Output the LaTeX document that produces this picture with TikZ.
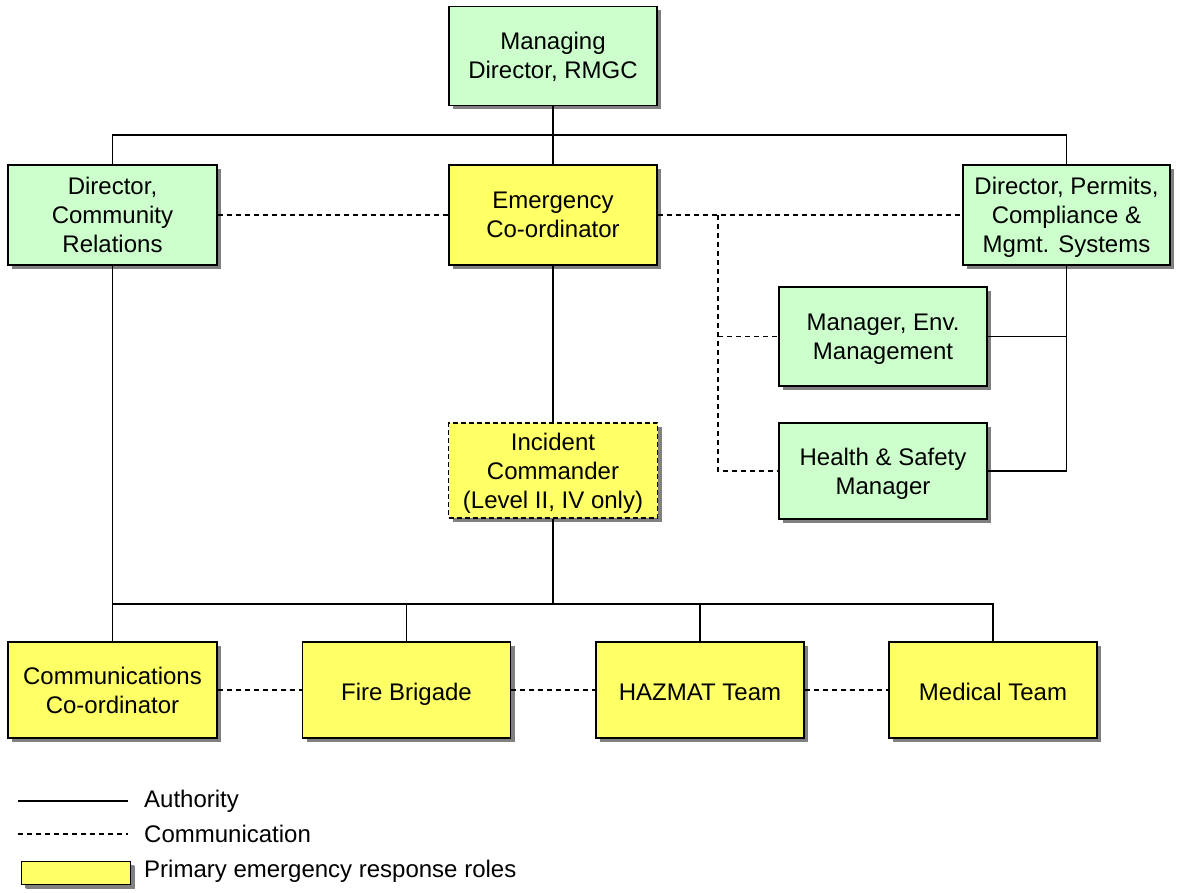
\documentclass[tikz,border=0pt]{standalone}
\usepackage{fontspec}
\setmainfont{Liberation Sans}
\usetikzlibrary{shadows}
\definecolor{boxgreen}{HTML}{CCFFCC}
\definecolor{boxyellow}{HTML}{FFFF66}
\newcommand\tstrut{\rule{0pt}{22pt}}
\newcommand\sstrut{\rule{0pt}{26pt}}
\newcommand\bstrut{\rule[-5pt]{0pt}{5pt}}
\begin{document}
\begin{tikzpicture}[x=1pt,y=-1pt,
  every node/.style={font=\fontsize{24}{29}\selectfont},
  basebox/.style={draw, line width=1.5pt, inner sep=0pt,
    drop shadow={shadow xshift=4pt, shadow yshift=-4pt, fill=black!50, opacity=1}},
  orgbox/.style={basebox, align=center, minimum width=208pt, minimum height=98pt,
    execute at end node=\bstrut},
  greenbox/.style={orgbox, fill=boxgreen},
  yellowbox/.style={orgbox, fill=boxyellow},
  auth/.style={line width=1.5pt},
  comm/.style={line width=1.3pt, dash pattern=on 5pt off 4pt}]
\useasboundingbox (0,0) rectangle (1180,893);
\fill[white] (0,0) rectangle (1180,893);

% nodes
\node[greenbox, minimum height=99pt] (md) at (553,56) {\tstrut Managing\\Director, RMGC};
\node[greenbox, minimum height=100pt, minimum width=209pt] (dcr) at (112.5,215) {\tstrut Director,\\Community\\Relations};
\node[yellowbox, minimum height=100pt] (ec) at (553,215) {\tstrut Emergency\\Co-ordinator};
\node[greenbox, minimum height=100pt, minimum width=207pt] (dp) at (1066.5,215) {\tstrut Director, Permits,\\Compliance \&\\Mgmt. Systems};
\node[greenbox, minimum height=99pt] (me) at (883,336.5) {\tstrut Manager, Env.\\Management};
\node[greenbox, minimum height=96pt] (hs) at (883,471) {\tstrut Health \& Safety\\Manager};
\node[yellowbox, minimum height=95pt, minimum width=209pt, dashed, dash pattern=on 5pt off 3pt] (ic) at (553,470.5) {\tstrut Incident\\Commander\\(Level II, IV only)};
\node[yellowbox, minimum height=96pt, minimum width=209pt] (cc) at (112.5,690) {\tstrut Communications\\Co-ordinator};
\node[yellowbox, minimum height=96pt] (fb) at (406.5,690) {\sstrut Fire Brigade};
\node[yellowbox, minimum height=96pt] (hz) at (700,690) {\sstrut HAZMAT Team};
\node[yellowbox, minimum height=96pt] (mt) at (993,690) {\sstrut Medical Team};

% helper coordinates
\coordinate (t) at (0,135);
\coordinate (b) at (0,604);
\coordinate (v) at (718,0);

% authority lines
\draw[auth] (md.south) -- (md.south |- t);
\draw[auth] (dcr.north) -- (dcr.north |- t) -- (dp.north |- t) -- (dp.north);
\draw[auth] (ec.north) -- (ec.north |- t);
\draw[auth] (ec.south) -- (ic.north);
\draw[auth] (dcr.south) -- (cc.north);
\draw[auth] (ic.south) -- (ic.south |- b);
\draw[auth] (cc.north |- b) -- (mt.north |- b) -- (mt.north);
\draw[auth] (fb.north) -- (fb.north |- b);
\draw[auth] (hz.north) -- (hz.north |- b);
\draw[auth] (dp.south) -- (dp.south |- hs.east) -- (hs.east);
\draw[auth] (me.east) -- (me.east -| dp.south);

% communication lines
\draw[comm] (dcr.east) -- (ec.west);
\draw[comm] (ec.east) -- (dp.west);
\draw[comm] (ec.east -| v) -- (v |- hs.west) -- (hs.west);
\draw[comm] (v |- me.west) -- (me.west);
\draw[comm] (cc.east) -- (fb.west);
\draw[comm] (fb.east) -- (hz.west);
\draw[comm] (hz.east) -- (mt.west);

% legend
\coordinate (la1) at (18,801);
\coordinate (la2) at (128,801);
\coordinate (lc1) at (18,834);
\coordinate (lc2) at (128,834);
\draw[auth] (la1) -- (la2);
\draw[comm] (lc1) -- (lc2);
\node[basebox, fill=boxyellow, minimum width=109pt, minimum height=23pt, line width=1.3pt,
  drop shadow={shadow xshift=3pt, shadow yshift=-3pt, fill=black!50, opacity=1}] (lg) at (76,873) {};
\node[anchor=west, inner sep=0pt] (ta) at (144,801) {Authority};
\node[anchor=west, inner sep=0pt] (tc) at (144,834) {Communication};
\node[anchor=west, inner sep=0pt] (tp) at (144,871) {Primary emergency response roles};
\end{tikzpicture}
\end{document}
